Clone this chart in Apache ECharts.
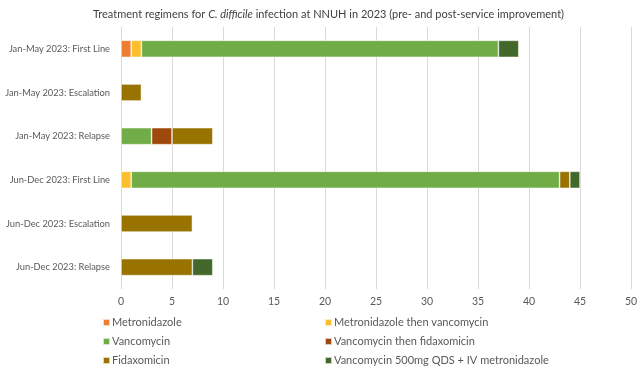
<!DOCTYPE html>
<html>
<head>
<meta charset="utf-8">
<script src="https://cdn.jsdelivr.net/npm/echarts@6/dist/echarts.min.js"></script>
<style>html,body{margin:0;padding:0;background:#fff}#c{width:643px;height:370px}</style>
</head>
<body>
<div id="c"></div>
<script>
const categories = ["Jan-May 2023: First Line", "Jan-May 2023: Escalation", "Jan-May 2023: Relapse", "Jun-Dec 2023: First Line", "Jun-Dec 2023: Escalation", "Jun-Dec 2023: Relapse"];
const metronidazole = [1, 0, 0, 0, 0, 0];
const metThenVanc = [1, 0, 0, 1, 0, 0];
const vancomycin = [35, 0, 3, 42, 0, 0];
const vancThenFidax = [0, 0, 2, 0, 0, 0];
const fidaxomicin = [0, 2, 4, 1, 7, 7];
const vancIV = [2, 0, 0, 1, 0, 2];
const xTicks = [0, 5, 10, 15, 20, 25, 30, 35, 40, 45, 50];

const FONT = 'Lato';
const seriesDefs = [
  ['Metronidazole', metronidazole, '#ED7D31'],
  ['Metronidazole then vancomycin', metThenVanc, '#FBBF2E'],
  ['Vancomycin', vancomycin, '#70AD47'],
  ['Vancomycin then fidaxomicin', vancThenFidax, '#9E480E'],
  ['Fidaxomicin', fidaxomicin, '#997300'],
  ['Vancomycin 500mg QDS + IV metronidazole', vancIV, '#43682B']
];
const legendText = {color: '#595959', fontSize: 11, fontFamily: FONT, lineHeight: 13, padding: [0, 0, 0, -3]};
const legendBase = {
  orient: 'vertical', top: 316, height: 60, padding: 0, itemWidth: 7, itemHeight: 7, itemGap: 6,
  icon: 'rect', textStyle: legendText
};
const chart = echarts.init(document.getElementById('c'));
chart.setOption({
  animation: false,
  title: {
    text: '{a|Treatment regimens for }{i|C. difficile}{a| infection at NNUH in 2023 (pre- and post-service improvement)}',
    left: 93, top: 9, padding: 0,
    textStyle: {
      rich: {
        a: {fontSize: 11, color: '#404040', fontFamily: FONT, fontWeight: 'normal'},
        i: {fontSize: 11, color: '#404040', fontFamily: FONT, fontStyle: 'italic', fontWeight: 'normal'}
      }
    }
  },
  legend: [
    Object.assign({}, legendBase, {left: 102, data: ['Metronidazole', 'Vancomycin', 'Fidaxomicin']}),
    Object.assign({}, legendBase, {left: 324, data: ['Metronidazole then vancomycin', 'Vancomycin then fidaxomicin', 'Vancomycin 500mg QDS + IV metronidazole']})
  ],
  grid: {left: 121, right: 12, top: 27, bottom: 81, containLabel: false, outerBoundsMode: 'none'},
  xAxis: {
    type: 'value', min: xTicks[0], max: xTicks[xTicks.length - 1], interval: 5,
    axisLine: {show: false}, axisTick: {show: false},
    splitLine: {lineStyle: {color: '#d9d9d9', width: 1}},
    axisLabel: {color: '#595959', fontSize: 10.5, fontFamily: FONT, margin: 7}
  },
  yAxis: {
    type: 'category', data: categories, inverse: true,
    axisLine: {show: false}, axisTick: {show: false},
    axisLabel: {color: '#595959', fontSize: 9.3, fontFamily: FONT, margin: 11}
  },
  series: seriesDefs.map(([name, vals, color]) => ({
    name, type: 'bar', stack: 'total', barWidth: 17,
    itemStyle: {color, borderColor: 'rgba(255,255,255,0.7)', borderWidth: 0.7},
    data: vals.map(v => v === 0 ? null : v)
  }))
});
</script>
</body>
</html>
